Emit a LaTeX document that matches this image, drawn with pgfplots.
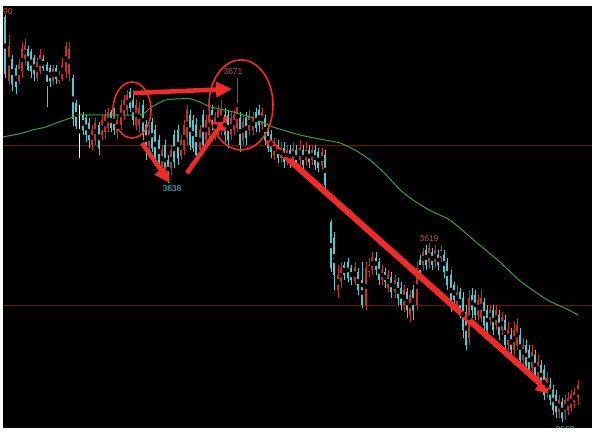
\documentclass[border=0pt]{standalone}
\usepackage{fontspec}
\setmainfont{Liberation Sans}
\usepackage{pgfplots}
\usepackage{pgfplotstable}
\pgfplotsset{compat=1.18}
\usetikzlibrary{arrows.meta}

\definecolor{upred}{HTML}{C83030}
\definecolor{downcyan}{HTML}{4CCBD0}
\definecolor{ma}{HTML}{3FA02C}
\definecolor{gridred}{HTML}{6E1212}
\definecolor{arrowred}{HTML}{F22A2A}
\definecolor{lblred}{HTML}{C85050}

% columns: x, high, body top, body bottom, low
\pgfplotstableread{
x h bh bl l
5 3690.6 3690 3672 3671
12 3678 3677 3669 3667
16 3675 3674 3668 3666
28 3681 3680 3673.5 3673
31 3680 3679 3673 3671
34 3678 3677 3672 3670
43 3678 3677 3674 3673
47 3676 3675 3670 3662
50 3675 3674 3670 3668
56 3675 3674 3670.5 3669
73 3672 3671 3658 3656
76 3664 3663 3656 3655
83 3660.3 3659.4 3654.7 3653
86 3659.4 3658.4 3653 3651
89 3658.4 3657 3651.5 3649
99 3657.2 3656.2 3649 3647
111 3661 3660.3 3655.3 3654
114 3661.5 3660.3 3654.7 3653
130 3667.8 3666.5 3661.5 3660.3
133 3665.6 3664 3657.8 3656.2
143 3664 3662.5 3653 3651.5
146 3657.8 3656.2 3648.4 3645.3
152 3658.4 3657.2 3649 3647.8
155 3656.2 3654.7 3646 3643.7
159 3653 3651.5 3644.7 3642.8
165 3651.5 3650 3640.6 3639
168 3646.9 3645.3 3639.7 3638
174 3654.7 3653 3644.7 3642.8
178 3656.2 3654.7 3646 3643.7
190 3661 3659.4 3650 3648.4
193 3659.4 3657.8 3649 3647.8
196 3658.4 3656.2 3646.9 3645.3
203 3661 3659.4 3650 3648.4
212 3662.5 3661 3656.2 3654.7
225 3661.5 3659.4 3653 3651
228 3661 3659.4 3651.5 3649
240 3660.3 3658.4 3650 3647.8
246 3660.3 3658.4 3652.2 3650
256 3661.5 3660.3 3655.3 3654
259 3662.5 3661 3656.2 3654
265 3659.4 3658.4 3651.5 3650
268 3656.2 3655.3 3649 3647.8
271 3654.7 3653 3647.8 3646
278 3651.5 3650 3646 3644.4
284 3650.9 3649 3644.7 3642.8
290 3650 3648.4 3644.7 3642.8
296 3650 3648.4 3643.7 3642.2
303 3650 3648.4 3643.7 3642.2
309 3650 3648.4 3644.7 3642.8
315 3650 3648.4 3643.7 3642.2
318 3649 3647.8 3642.8 3641.5
325 3648.4 3646.9 3637.5 3635.3
331 3626.5 3625.9 3611.5 3610.3
334 3622.8 3620.9 3609.4 3604.7
344 3613.4 3612.5 3609.4 3607.8
348 3614.7 3613.4 3608.4 3607.2
351 3612.5 3611.5 3607.8 3606.2
358 3611.5 3610.3 3604.7 3603.1
362 3613.4 3607.8 3600 3599
376 3616.6 3614.7 3610.9 3609.4
379 3614.7 3613.4 3607.8 3606.2
385 3611.5 3610.3 3607.2 3605.3
391 3610.3 3608.4 3604 3602.2
398 3608.4 3607.2 3602.2 3600
401 3607.2 3605.3 3600 3598.4
407 3605.3 3604 3598.4 3595.9
413 3606.2 3604.7 3598.4 3595.3
420 3615.6 3614.1 3609.4 3607.8
426 3618.7 3617.2 3612.5 3610.9
432 3617.8 3616.6 3612.5 3610.9
438 3617.2 3615.6 3612.5 3610.9
444 3617.2 3615.6 3610.3 3608.4
447 3614.7 3613.4 3606.2 3604.7
451 3610.9 3609.4 3600 3597.8
454 3607.2 3606.2 3601.6 3600
460 3605.3 3604 3598.4 3595.9
463 3604 3602.2 3592.2 3589.7
466 3600 3597.8 3587.5 3585.9
472 3605.3 3603.1 3598.4 3595.9
475 3604.7 3603.1 3596.9 3595.3
484 3602.2 3601 3593.7 3592.2
487 3600 3598.4 3592.2 3590.6
493 3600 3598.4 3592.2 3590.6
499 3598.4 3596.9 3590.6 3589.1
505 3596.9 3595.3 3587.5 3585.9
511 3592.8 3590.6 3585.9 3584.4
520 3592.8 3590.6 3582.8 3581.2
526 3589.1 3587.5 3581.2 3579.7
529 3587.5 3585.9 3579.7 3578.1
535 3585.9 3584.4 3578.1 3576.6
541 3582.8 3581.2 3575 3573.4
544 3581.2 3579.7 3571.9 3570.3
550 3577.2 3575 3570.3 3568.7
553 3575 3573.4 3567.2 3565.6
556 3573.4 3571.9 3566.6 3564.7
562 3570.9 3569.7 3564.7 3563.4
}\down

\pgfplotstableread{
x h bh bl l
9 3684.4 3681 3670 3669
19 3677 3675 3670 3669
22 3682 3680 3673 3671
25 3683 3681 3677 3675
37 3677 3676 3671 3670
40 3680 3678 3673 3672
53 3675 3674 3670 3669
59 3673 3672 3670 3669
62 3677 3675 3670.5 3670
66 3682 3681 3673 3671
69 3682 3680 3672 3670
92 3656.2 3654.7 3650 3648.4
95 3658.4 3657 3651.5 3650
102 3659.4 3657.8 3653 3651.5
105 3661 3659.4 3654 3652
108 3661.5 3660.3 3655.3 3654
117 3659.4 3657.8 3654 3652
121 3664 3662.5 3656.2 3654.7
124 3665.6 3664 3659.4 3657.8
127 3667.2 3665.6 3661 3659.4
136 3664 3662.5 3656.2 3654.7
139 3663.4 3661.5 3656.2 3654
149 3656.2 3654.7 3650 3647.8
162 3650 3648.4 3642.8 3641.5
171 3650 3648.4 3642.8 3640.6
181 3653 3651.5 3646.9 3645.3
184 3657.8 3656.2 3648.4 3646.9
187 3662.5 3661 3652.2 3650
200 3656.2 3654.7 3648.4 3646.9
206 3659.4 3657.8 3651.5 3650
209 3661 3659.4 3653 3651.5
215 3660.3 3658.4 3653 3651.5
218 3662.5 3661 3654.7 3653
221 3664 3661 3654.7 3653
231 3660.3 3658.4 3653 3651.5
234 3661 3659.4 3654.7 3653
237 3671 3662.5 3655.3 3654
243 3659.4 3657.2 3651.5 3650
249 3661 3659.4 3654.7 3653
253 3660.3 3658.4 3654.7 3653
262 3661.5 3660.3 3656.2 3654.7
274 3652.2 3651 3646.9 3645.3
281 3650.9 3649 3646 3644.7
287 3650 3648.4 3645.3 3643.7
293 3650.9 3649 3645.3 3643.7
300 3651.5 3649 3645.3 3643.7
306 3650.9 3648.4 3645.3 3643.7
312 3650 3648.4 3645.3 3643.7
322 3649 3647.8 3643.7 3642.2
338 3612.5 3609.4 3604.7 3602.2
341 3613.4 3611.5 3607.2 3605.3
355 3613.4 3611.5 3607.2 3606.2
366 3613.4 3611.5 3600 3598.4
369 3614.7 3612.5 3610.3 3608.4
372 3616.6 3614.7 3610.9 3609.4
382 3612.5 3610.9 3607.8 3606.2
388 3610.9 3609.4 3605.3 3604
395 3609.4 3607.8 3604 3602.2
404 3606.2 3604.7 3600 3597.8
410 3604.7 3603.1 3596.9 3594.7
417 3613.4 3611.5 3600 3598.4
423 3617.8 3616.6 3612.5 3610.9
429 3619.4 3617.8 3613.4 3611.5
435 3618.7 3617.2 3613.4 3611.5
441 3618.7 3617.2 3614.7 3613.4
457 3606.2 3604 3600 3598.4
469 3604.7 3602.2 3589.7 3587.5
478 3603.1 3601.6 3596.9 3595.3
481 3604.7 3602.2 3595.9 3594.7
490 3600 3598.4 3595.3 3593.7
496 3600 3598.4 3593.7 3592.2
502 3597.8 3595.9 3592.2 3590.6
508 3594.7 3592.2 3587.5 3585.9
514 3594.7 3592.2 3585.9 3584.4
517 3595.9 3593.7 3587.5 3585.9
523 3589.7 3587.5 3582.8 3581.2
532 3587.5 3585.3 3580.3 3579.1
538 3584.4 3582.2 3577.2 3576
547 3579.1 3576.6 3572.8 3570.9
559 3571.9 3570.3 3566.6 3564.7
565 3571.9 3570.3 3566.6 3564.1
568 3572.8 3570.9 3567.2 3565.6
571 3573.4 3571.9 3567.8 3566.6
574 3574.1 3572.8 3569.7 3567.8
578 3576.6 3575 3570.9 3568.7
}\up

\pgfplotstableread{
x h bh bl l
79 3662.5 3659.4 3659 3646
}\flat

\pgfplotsset{
  bar/.style 2 args={only marks, mark=none, forget plot,
    error bars/.cd, y dir=both, y explicit, error mark=none,
    error bar style={line width=#2, draw=#1}},
}

\begin{document}
\begin{tikzpicture}[x=1pt,y=1pt]
\useasboundingbox (0,0) rectangle (600,434);
\fill[white] (0,0) rectangle (600,434);
\begin{axis}[
  at={(3pt,6pt)}, anchor=south west,
  scale only axis, width=589pt, height=422pt,
  xmin=3, xmax=592, ymin=3561.55, ymax=3693.4,
  axis background/.style={fill=black},
  axis line style={draw=none},
  xtick=\empty, ytick={3600,3650}, yticklabels={},
  major tick length=0pt,
  ymajorgrids, grid style={gridred, line width=0.7pt},
]
% wicks
\addplot[bar={downcyan}{0.8pt}] table[x=x, y expr={(\thisrow{h}+\thisrow{l})/2}, y error expr={(\thisrow{h}-\thisrow{l})/2}] {\down};
\addplot[bar={upred}{0.8pt}] table[x=x, y expr={(\thisrow{h}+\thisrow{l})/2}, y error expr={(\thisrow{h}-\thisrow{l})/2}] {\up};
\addplot[bar={white}{0.8pt}] table[x=x, y expr={(\thisrow{h}+\thisrow{l})/2}, y error expr={(\thisrow{h}-\thisrow{l})/2}] {\flat};
% bodies
\addplot[bar={downcyan}{2.9pt}] table[x=x, y expr={(\thisrow{bh}+\thisrow{bl})/2}, y error expr={(\thisrow{bh}-\thisrow{bl})/2}] {\down};
\addplot[bar={upred}{2.4pt}] table[x=x, y expr={(\thisrow{bh}+\thisrow{bl})/2}, y error expr={(\thisrow{bh}-\thisrow{bl})/2}] {\up};

% moving average
\addplot[ma, line width=1pt, mark=none, smooth, tension=0.3] coordinates {
(3,3652.5) (20,3653.5) (33,3654.7) (45,3655.5) (57,3656.9) (73,3658.7)
(82,3659.4) (140,3659.4) (150,3661.5) (165,3664) (180,3664.4) (190,3664.4)
(200,3663.4) (210,3661.9) (233,3660.3) (253,3658.4) (273,3655.6) (300,3653.1)
(320,3651.8) (340,3650.6) (355,3648.4) (370,3645.3) (385,3641) (400,3636)
(413,3632.8) (430,3629.5) (450,3626.5) (477,3619.4) (500,3613.4) (520,3607.5)
(547,3601.6) (565,3599) (578,3596.9)
};

% annotations
\draw[arrowred, line width=1.6pt] (axis cs:132,3660.9) ellipse [x radius=19pt, y radius=28pt];
\draw[arrowred, line width=1.6pt] (axis cs:241,3662.5) ellipse [x radius=32pt, y radius=45pt];
\draw[arrowred, line width=4.5pt, -{Triangle[length=16pt,width=15pt]}] (axis cs:133,3666.2) -- (axis cs:232,3667.5);
\draw[arrowred, line width=4.5pt, -{Triangle[length=16pt,width=15pt]}] (axis cs:142,3650.6) -- (axis cs:170,3638.1);
\draw[arrowred, line width=4.5pt, -{Triangle[length=16pt,width=15pt]}] (axis cs:187,3641.2) -- (axis cs:228,3659.4);
\draw[arrowred, line width=6pt, -{Triangle[length=17pt,width=16pt]}] (axis cs:267,3651.5) -- (axis cs:553,3571.9);

\node[font=\fontsize{8.5}{9}\selectfont, text=lblred] at (axis cs:233,3672.8) {3671};
\node[font=\fontsize{8.5}{9}\selectfont, text=downcyan] at (axis cs:172,3636.2) {3638};
\node[font=\fontsize{8.5}{9}\selectfont, text=lblred] at (axis cs:429,3620.6) {3619};
\node[font=\fontsize{8.5}{9}\selectfont, text=downcyan] at (axis cs:565,3561.2) {3562};
\node[font=\fontsize{8.5}{9}\selectfont, text=lblred, anchor=west, inner sep=0pt] at (axis cs:3,3691.6) {90};
\end{axis}
\end{tikzpicture}
\end{document}
